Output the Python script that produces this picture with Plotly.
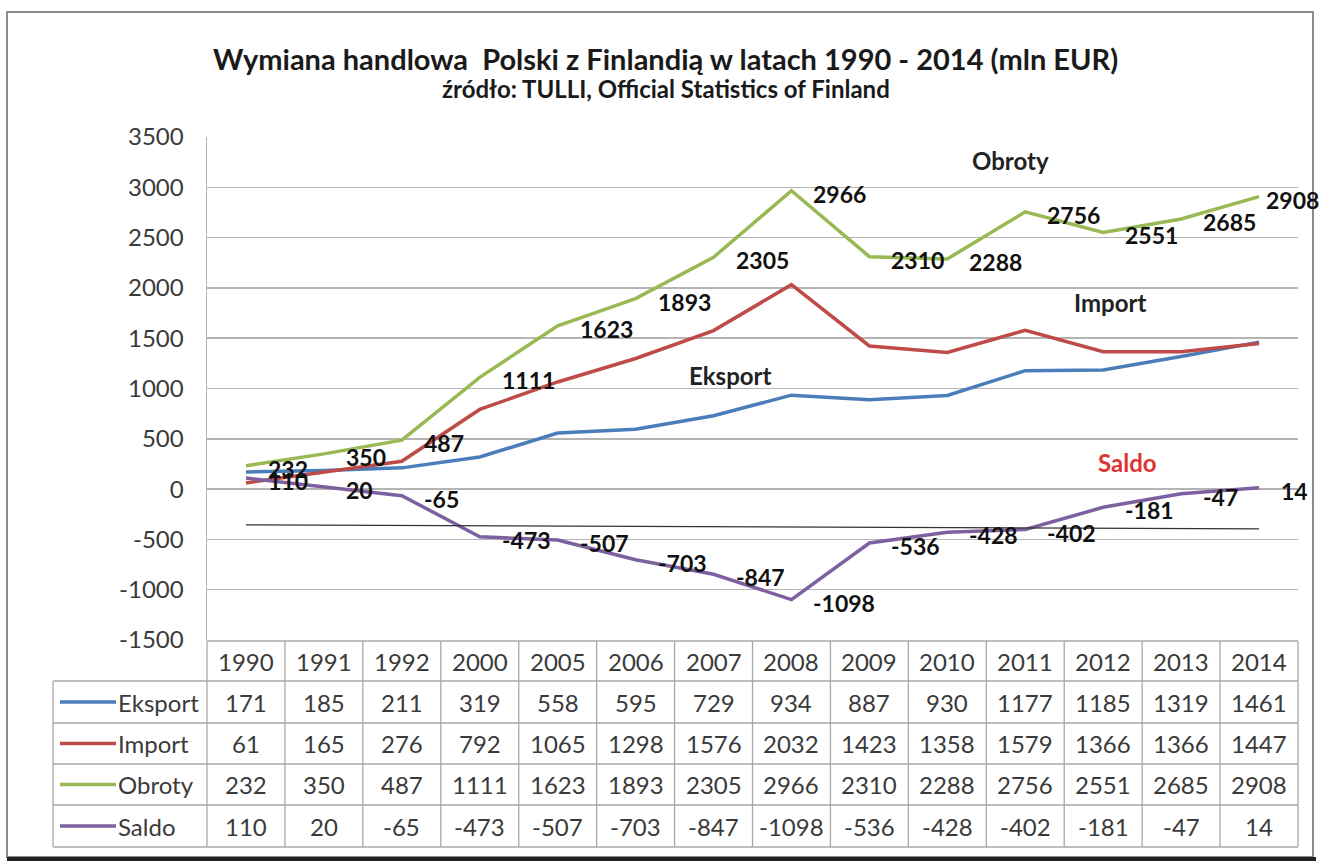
import plotly.graph_objects as go

# ---------------- data ----------------
years = ["1990", "1991", "1992", "2000", "2005", "2006", "2007",
         "2008", "2009", "2010", "2011", "2012", "2013", "2014"]
eksport = [171, 185, 211, 319, 558, 595, 729, 934, 887, 930, 1177, 1185, 1319, 1461]
import_ = [61, 165, 276, 792, 1065, 1298, 1576, 2032, 1423, 1358, 1579, 1366, 1366, 1447]
obroty = [232, 350, 487, 1111, 1623, 1893, 2305, 2966, 2310, 2288, 2756, 2551, 2685, 2908]
saldo = [110, 20, -65, -473, -507, -703, -847, -1098, -536, -428, -402, -181, -47, 14]

series_names = ["Eksport", "Import", "Obroty", "Saldo"]
series_values = [eksport, import_, obroty, saldo]
series_colors = ["#4A7EBB", "#BE4B48", "#98B954", "#7D60A0"]

y_ticks = [-1500, -1000, -500, 0, 500, 1000, 1500, 2000, 2500, 3000, 3500]

title_text = "Wymiana handlowa  Polski z Finlandią w latach 1990 - 2014 (mln EUR)"
subtitle_text = "źródło: TULLI, Official Statistics of Finland"

# ---------------- layout geometry ----------------
W, H = 1319, 863
PL, PR, PT, PB = 207, 1298, 137, 640  # plot area in pixels
YMIN, YMAX = -1500, 3500
n = len(years)
xs = list(range(n))

def px2x(px):
    return (px - PL) / (PR - PL)

def px2y(py):
    return (PB - py) / (PB - PT)

def px2dx(px):
    return (px - PL) / (PR - PL) * n - 0.5

def px2dy(py):
    return YMAX - (py - PT) / (PB - PT) * (YMAX - YMIN)

FONT = "Lato"
GRID = "#B4B4B4"
TXT = "#3A3A3A"

fig = go.Figure()
for name, vals, col in zip(series_names, series_values, series_colors):
    fig.add_trace(go.Scatter(x=xs, y=vals, mode="lines", name=name,
                             line=dict(color=col, width=3.5), showlegend=False,
                             hoverinfo="skip"))

annotations = []
shapes = []

# data labels for Obroty and Saldo
lab_font = dict(family=FONT, size=23, color="#111111", weight="bold")
for vals in (obroty, saldo):
    for i, v in enumerate(vals):
        xshift = 20
        if vals is obroty and i == n - 1:
            xshift = 5
        annotations.append(dict(x=i, y=v, xref="x", yref="y", text=str(v),
                                showarrow=False, xanchor="left", yanchor="middle",
                                xshift=xshift, yshift=-3, font=lab_font))

# series name labels inside the plot
name_pos = {"Obroty": (1010, 160, "#222222"), "Import": (1110, 302, "#222222"),
            "Eksport": (730, 375, "#222222"), "Saldo": (1127, 462, "#E03434")}
for nm, (px, py, c) in name_pos.items():
    annotations.append(dict(x=px2dx(px), y=px2dy(py), xref="x", yref="y", text=nm,
                            showarrow=False, xanchor="center", yanchor="middle",
                            font=dict(family=FONT, size=24, color=c, weight="bold")))

# thin black line drawn across the chart
shapes.append(dict(type="line", xref="x", yref="y", x0=0, y0=-355, x1=13, y1=-395,
                   line=dict(color="#333333", width=1.3)))

# ---------------- data table ----------------
row_edges = [641, 681, 723, 764, 805, 847]
LEFT = 53
tbl_line = dict(color="#A8A8A8", width=1.3)
for i in range(n + 1):
    xb = px2x(PL + i * (PR - PL) / n)
    shapes.append(dict(type="line", xref="paper", yref="paper", x0=xb, x1=xb,
                       y0=px2y(row_edges[0]), y1=px2y(row_edges[-1]), line=tbl_line))
shapes.append(dict(type="line", xref="paper", yref="paper", x0=px2x(LEFT), x1=px2x(LEFT),
                   y0=px2y(row_edges[1]), y1=px2y(row_edges[-1]), line=tbl_line))
for k, ry in enumerate(row_edges):
    x0 = px2x(PL) if k == 0 else px2x(LEFT)
    shapes.append(dict(type="line", xref="paper", yref="paper", x0=x0, x1=px2x(PR),
                       y0=px2y(ry), y1=px2y(ry), line=tbl_line))

tfont = dict(family=FONT, size=24, color=TXT)
hy = px2y((row_edges[0] + row_edges[1]) / 2)
for i, yr in enumerate(years):
    annotations.append(dict(x=i, y=hy, xref="x", yref="paper", text=yr, showarrow=False,
                            xanchor="center", yanchor="middle", font=tfont))
for r, (nm, vals, col) in enumerate(zip(series_names, series_values, series_colors)):
    cy = px2y((row_edges[r + 1] + row_edges[r + 2]) / 2)
    shapes.append(dict(type="line", xref="paper", yref="paper", x0=px2x(60), x1=px2x(116),
                       y0=cy, y1=cy, line=dict(color=col, width=3.5)))
    annotations.append(dict(x=px2x(116), y=cy, xref="paper", yref="paper", text=nm,
                            showarrow=False, xanchor="left", yanchor="middle", font=tfont))
    for i, v in enumerate(vals):
        annotations.append(dict(x=i, y=cy, xref="x", yref="paper", text=str(v),
                                showarrow=False, xanchor="center", yanchor="middle", font=tfont))

# ---------------- titles ----------------
annotations.append(dict(x=px2x(665), y=px2y(58), xref="paper", yref="paper", text=title_text,
                        showarrow=False, xanchor="center", yanchor="middle",
                        font=dict(family=FONT, size=29, color="#1A1A1A", weight="bold")))
annotations.append(dict(x=px2x(666), y=px2y(89), xref="paper", yref="paper", text=subtitle_text,
                        showarrow=False, xanchor="center", yanchor="middle",
                        font=dict(family=FONT, size=24, color="#1A1A1A", weight="bold")))

# ---------------- outer frame ----------------
shapes.append(dict(type="rect", xref="paper", yref="paper", x0=px2x(7), x1=px2x(1313),
                   y0=px2y(857), y1=px2y(12), line=dict(color="#8A8A8A", width=2), layer="below"))
shapes.append(dict(type="line", xref="paper", yref="paper", x0=px2x(7), x1=px2x(1316),
                   y0=px2y(859), y1=px2y(859), line=dict(color="#222222", width=4)))

fig.update_layout(
    width=W, height=H,
    margin=dict(l=PL, r=W - PR, t=PT, b=H - PB, pad=0),
    paper_bgcolor="white", plot_bgcolor="white",
    font=dict(family=FONT, color=TXT),
    xaxis=dict(range=[-0.5, n - 0.5], showgrid=False, zeroline=False,
               showticklabels=False, showline=False, fixedrange=True),
    yaxis=dict(range=[YMIN, YMAX], tickvals=y_ticks, ticktext=[str(t) for t in y_ticks],
               showgrid=True, gridcolor=GRID,
               gridwidth=1.5, zeroline=False, showline=True, linecolor=GRID, linewidth=1.5,
               ticks="", ticklabelstandoff=17, fixedrange=True,
               tickfont=dict(family=FONT, size=24, color=TXT)),
    shapes=shapes, annotations=annotations,
    showlegend=False, hovermode=False,
)

fig.write_html("out.html", config={"displayModeBar": False, "staticPlot": True},
               post_script="document.body.style.margin='0';document.body.style.overflow='hidden';")
